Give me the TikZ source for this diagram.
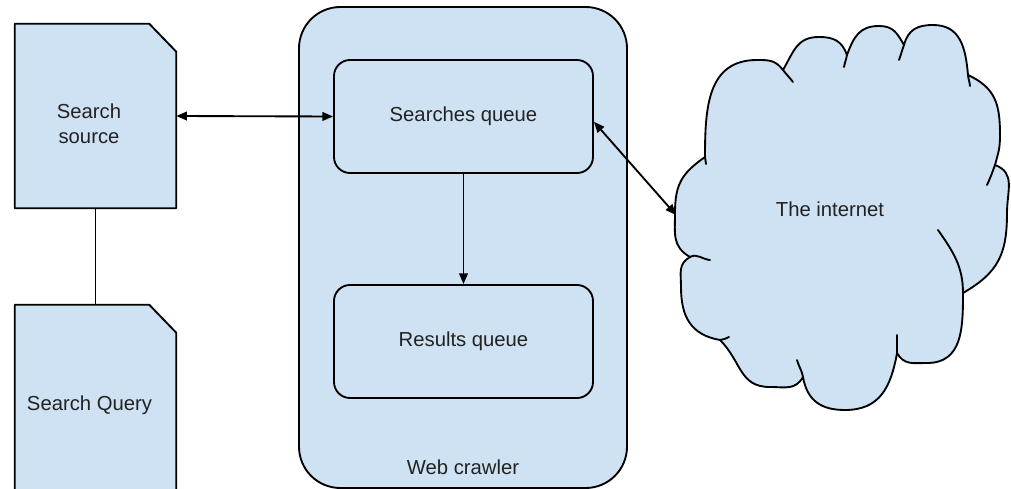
\documentclass[tikz,border=0pt]{standalone}
\usepackage{fontspec}
\setmainfont{Liberation Sans}
\usetikzlibrary{arrows.meta}
\definecolor{boxblue}{HTML}{CFE2F3}
\definecolor{txtcol}{HTML}{222222}
\begin{document}
\begin{tikzpicture}[x=0.75pt,y=0.75pt,
  every node/.style={font=\fontsize{15.2}{18.8}\selectfont, text=txtcol},
  shapeline/.style={draw=black, line width=1.4pt, fill=boxblue, line join=round},
  queuebox/.style={shapeline, rounded corners=12pt, minimum width=194.25pt, minimum height=84.75pt, inner sep=0pt},
  docbox/.style={draw=none, inner sep=0pt, minimum width=120.75pt},
  conn/.style={draw=black, line width=1.4pt},
  biarrow/.style={conn, {Triangle[length=8pt,width=6.5pt]}-{Triangle[length=8pt,width=6.5pt]}},
  onearrow/.style={conn, -{Triangle[length=8pt,width=6.5pt]}},
  puffline/.style={draw=black, line width=1.4pt, line cap=round},
  lobe/.style={looseness=1.15}
]
\useasboundingbox (0,0) rectangle (1011,-489);

% Web crawler container
\node[shapeline, rounded corners=31pt, minimum width=246pt, minimum height=360.75pt, inner sep=0pt] (crawler) at (463,-247.5) {};
\node (crawlerlabel) at (463,-467) {Web crawler};

% Queues
\node[queuebox] (sq) at (463.5,-116.5) {Searches queue};
\node[queuebox] (rq) at (463.5,-341.5) {Results queue};

% Documents
\node[docbox, minimum height=138pt] (src) at (95.5,-116) {};
\filldraw[shapeline] (src.south west) -- (src.north west) -- ([xshift=-20.25pt]src.north east) -- ([yshift=-21pt]src.north east) -- (src.south east) -- cycle;
\node[align=center] (srctext) at (89,-124) {Search\\source};

\node[docbox, minimum height=146.25pt] (qry) at (95.5,-402.5) {};
\filldraw[shapeline] (qry.south west) -- (qry.north west) -- ([xshift=-20.25pt]qry.north east) -- ([yshift=-21pt]qry.north east) -- (qry.south east) -- cycle;
\node (qrytext) at (89.5,-405) {Search Query};

% Cloud
\path[shapeline] (705,-157)
  to[lobe,out=90,in=180] (757,-60) to[lobe,out=0,in=128] (783,-70)
  to[lobe,out=60,in=180] (819,-37) to[lobe,out=0,in=110] (847,-55)
  to[lobe,out=70,in=180] (879,-26) to[lobe,out=0,in=120] (904,-45)
  to[lobe,out=75,in=180] (933,-25) to[lobe,out=0,in=95] (968,-75)
  to[lobe,out=-25,in=90] (1000,-135) to[lobe,out=-90,in=75] (995,-165)
  to[lobe,out=-20,in=90] (1007,-213) to[lobe,out=-90,in=30] (963,-293)
  to[lobe,out=-90,in=0] (927,-363) to[lobe,out=180,in=-60] (897,-353)
  to[lobe,out=-100,in=0] (845,-410) to[lobe,out=180,in=-80] (803,-377)
  to[lobe,out=-120,in=0] (770,-387) to[lobe,out=180,in=-45] (720,-340)
  to[lobe,out=170,in=-90] (681,-287) to[lobe,out=90,in=210] (690,-257)
  to[lobe,out=150,in=-90] (675,-213) to[lobe,out=90,in=215] (705,-157) -- cycle;
\draw[puffline] (705,-157) -- (706,-164);
\draw[puffline] (783,-70) to[out=-52,in=128] (793,-82);
\draw[puffline] (847,-55) to[out=-100,in=80] (844,-67);
\draw[puffline] (904,-45) to[out=-110,in=70] (899,-60);
\draw[puffline] (968,-75) to[out=-85,in=95] (970,-86);
\draw[puffline] (995,-165) to[out=-110,in=65] (987,-185);
\draw[puffline] (938,-230) to[out=-55,in=90] (963,-293);
\draw[puffline] (897,-353) to[out=90,in=-90] (897,-335);
\draw[puffline] (803,-377) to[out=100,in=-75] (797,-360);
\draw[puffline] (720,-340) to[out=-10,in=190] (729,-337);
\draw[puffline] (690,-257) to[out=30,in=175] (710,-260);
\node (inet) at (830,-209) {The internet};
\coordinate (inetw) at (676,-215);

% Connectors
\draw[conn] (src.south) -- (qry.north);
\draw[biarrow] (src.east) -- (sq.west);
\draw[onearrow] (sq.south) -- (rq.north);
\draw[biarrow] ([yshift=-4pt]sq.east) -- (inetw);
\end{tikzpicture}
\end{document}
